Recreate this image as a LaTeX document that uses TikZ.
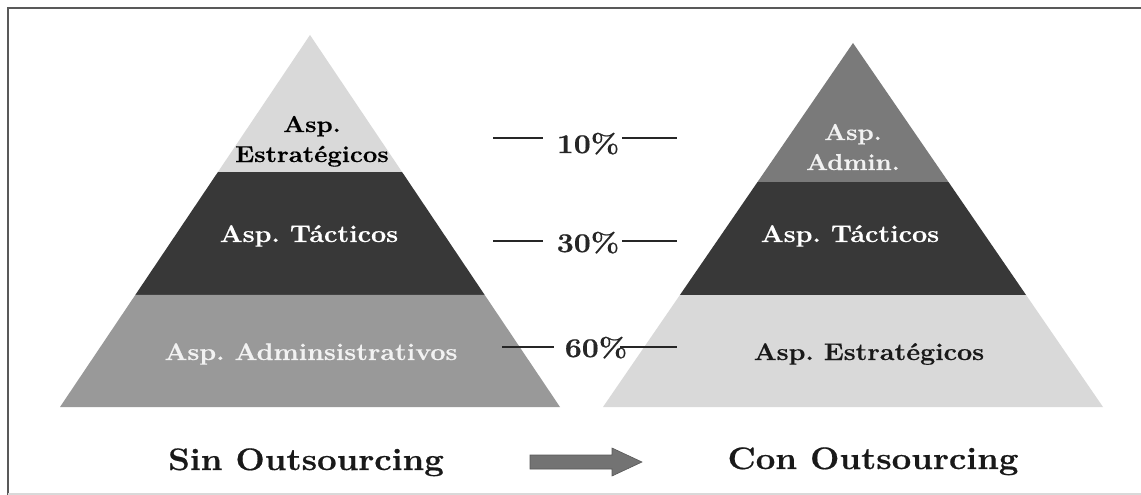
\documentclass[tikz,border=0pt]{standalone}
\usepackage{fontspec}
\setmainfont{Latin Modern Roman}[FakeStretch=1.12, BoldFeatures={FakeBold=0.6}]
\usetikzlibrary{calc}
\frenchspacing
\begin{document}
\begin{tikzpicture}[x=1pt,y=-1pt,
  layertext/.style={font=\fontsize{24}{29}\selectfont\bfseries, align=center, inner sep=0pt, anchor=base},
  twoline/.style={font=\fontsize{23}{30}\selectfont\bfseries, align=center, inner sep=0pt, anchor=base},
  pcttext/.style={font=\fontsize{27}{30}\selectfont\bfseries, inner sep=0pt, anchor=base, text=black!85},
  captiontext/.style={font=\fontsize{31}{34}\selectfont\bfseries, inner sep=0pt, anchor=base, text=black!90},
  tick/.style={draw=black!85, line width=1.6pt},
  frameline/.style={draw=black!65, line width=2pt}]
\useasboundingbox (0,0) rectangle (1141,495);
\fill[white] (0,0) rectangle (1141,495);
% outer frame
\draw[frameline] (8,495) -- (8,8) -- (1141,8);
\draw[draw=black!15, line width=1.5pt] (8,494) -- (1141,494);

% left pyramid: Sin Outsourcing
\coordinate (LA) at (310,35);
\coordinate (LL) at (60,407);
\coordinate (LR) at (560,407);
\coordinate (L1l) at ($(LA)!0.3683!(LL)$);
\coordinate (L1r) at ($(LA)!0.3683!(LR)$);
\coordinate (L2l) at ($(LA)!0.6989!(LL)$);
\coordinate (L2r) at ($(LA)!0.6989!(LR)$);
\fill[black!15] (LA) -- (L1l) -- (L1r) -- cycle;
\fill[black!78] (L1l) -- (L2l) -- (L2r) -- (L1r) -- cycle;
\fill[black!40] (L2l) -- (LL) -- (LR) -- (L2r) -- cycle;
% the base anchor of a two-line label sits on its last line
\node[twoline] (lstrat) at (312,162) {Asp.\\Estratégicos};
\node[layertext, text=white] (ltact) at (309,242) {Asp. Tácticos};
\node[layertext, text=black!5] (ladmin) at (311,360) {Asp. Adminsistrativos};

% right pyramid: Con Outsourcing
\coordinate (RA) at (853,43);
\coordinate (RL) at (603,407);
\coordinate (RR) at (1103,407);
\coordinate (R1l) at ($(RA)!0.3819!(RL)$);
\coordinate (R1r) at ($(RA)!0.3819!(RR)$);
\coordinate (R2l) at ($(RA)!0.6923!(RL)$);
\coordinate (R2r) at ($(RA)!0.6923!(RR)$);
\fill[black!52] (RA) -- (R1l) -- (R1r) -- cycle;
\fill[black!78] (R1l) -- (R2l) -- (R2r) -- (R1r) -- cycle;
\fill[black!15] (R2l) -- (RL) -- (RR) -- (R2r) -- cycle;
\node[twoline, text=black!5] (radmin) at (853,170) {Asp.\\Admin.};
\node[layertext, text=white] (rtact) at (850,242) {Asp. Tácticos};
\node[layertext, text=black!90] (rstrat) at (869,360) {Asp. Estratégicos};

% percentage markers between the pyramids
\node[pcttext] (p10) at (588,153) {10\%};
\node[pcttext] (p30) at (588,252) {30\%};
\node[pcttext] (p60) at (596,357) {60\%};
\coordinate (p10a) at (493,138); \coordinate (p10b) at (543,138);
\coordinate (p10c) at (622,138); \coordinate (p10d) at (677,138);
\coordinate (p30a) at (493,241); \coordinate (p30b) at (543,241);
\coordinate (p30c) at (622,241); \coordinate (p30d) at (677,241);
\coordinate (p60a) at (502,347); \coordinate (p60b) at (554,347);
\coordinate (p60c) at (620,347); \coordinate (p60d) at (677,347);
\draw[tick] (p10a) -- (p10b); \draw[tick] (p10c) -- (p10d);
\draw[tick] (p30a) -- (p30b); \draw[tick] (p30c) -- (p30d);
\draw[tick] (p60a) -- (p60b); \draw[tick] (p60c) -- (p60d);

% captions and transition arrow
\node[captiontext] (sin) at (306,470) {Sin Outsourcing};
\node[captiontext] (con) at (873,469) {Con Outsourcing};
\fill[black!55, draw=black!65, line width=0.6pt]
  (530,455) -- (612,455) -- (612,448) -- (642,462) -- (612,476) -- (612,469) -- (530,469) -- cycle;
\end{tikzpicture}
\end{document}
